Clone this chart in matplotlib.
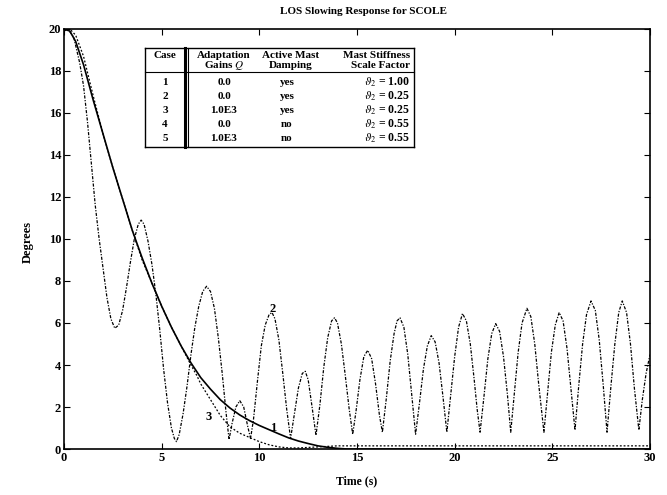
import numpy as np
import matplotlib
matplotlib.use("Agg")
import matplotlib.pyplot as plt
from matplotlib.lines import Line2D

plt.rcParams["font.family"] = ["Liberation Serif", "DejaVu Serif"]
plt.rcParams["mathtext.fontset"] = "stix"

# case 1: solid, smooth decay
t_case1 = [0.0, 0.3, 0.6, 1.0, 1.5, 2.0, 2.5, 3.0, 3.5, 4.0, 4.5, 5.0, 5.5, 6.0, 6.5,
           7.0, 7.5, 8.0, 8.5, 9.0, 9.5, 10.0, 10.5, 11.0, 11.5, 12.0, 12.5, 13.0,
           13.5, 14.0, 14.5, 30.0]
deg_case1 = [20.0, 19.9, 19.4, 18.3, 16.6, 15.0, 13.4, 11.9, 10.4, 9.1, 7.9, 6.8, 5.8,
             4.9, 4.1, 3.4, 2.85, 2.35, 1.95, 1.62, 1.35, 1.12, 0.92, 0.72, 0.53, 0.38,
             0.26, 0.15, 0.08, 0.03, 0.0, 0.0]

# case 2: oscillating mast (no adaptation, soft mast)
case2_points = [
    (0.0, 19.9), (0.2, 20.0), (0.5, 19.6), (0.8, 18.4), (1.0, 17.3), (1.2, 15.6),
    (1.4, 13.6), (1.6, 11.6), (1.8, 10.0), (2.0, 8.6), (2.2, 7.2), (2.4, 6.2),
    (2.6, 5.75), (2.8, 5.9), (3.0, 6.6), (3.2, 7.7), (3.4, 8.9), (3.6, 10.0),
    (3.8, 10.7), (3.95, 10.9), (4.1, 10.7), (4.3, 9.9), (4.5, 8.8), (4.7, 7.4),
    (4.9, 5.7), (5.1, 3.8), (5.3, 2.2), (5.5, 1.0), (5.65, 0.5), (5.76, 0.35),
    (5.9, 0.7), (6.1, 1.7), (6.3, 3.0), (6.5, 4.5), (6.7, 5.8), (6.9, 6.8),
    (7.1, 7.5), (7.3, 7.75), (7.5, 7.5), (7.7, 6.7), (7.9, 5.3), (8.1, 3.6),
    (8.3, 1.7), (8.45, 0.45), (8.6, 1.2), (8.8, 2.0), (9.0, 2.3), (9.2, 2.0),
    (9.4, 1.1), (9.55, 0.5), (9.7, 1.4), (9.9, 3.2), (10.1, 4.9), (10.3, 5.9),
    (10.5, 6.4), (10.65, 6.5), (10.8, 6.2), (11.0, 5.2), (11.2, 3.6), (11.4, 1.9),
    (11.6, 0.5), (11.8, 1.7), (12.0, 2.9), (12.2, 3.6), (12.35, 3.7), (12.5, 3.3),
    (12.7, 2.0), (12.9, 0.65), (13.1, 2.1), (13.3, 3.9), (13.5, 5.3), (13.7, 6.1),
    (13.85, 6.25), (14.0, 6.0), (14.2, 5.0), (14.4, 3.5), (14.6, 1.9), (14.78, 0.7),
    (14.95, 1.8), (15.15, 3.3), (15.35, 4.4), (15.55, 4.7), (15.75, 4.3), (15.95, 3.1),
    (16.15, 1.6), (16.3, 0.8), (16.5, 2.4), (16.7, 4.2), (16.9, 5.5), (17.05, 6.1),
    (17.2, 6.25), (17.4, 5.8), (17.6, 4.5), (17.8, 2.6), (18.0, 0.7), (18.2, 2.2),
    (18.4, 3.8), (18.6, 4.9), (18.8, 5.4), (19.0, 5.1), (19.2, 4.1), (19.4, 2.5),
    (19.6, 0.8), (19.8, 2.6), (20.0, 4.4), (20.2, 5.8), (20.4, 6.45), (20.6, 6.1),
    (20.8, 5.0), (21.0, 3.3), (21.15, 1.9), (21.3, 0.8), (21.5, 2.5), (21.7, 4.3),
    (21.9, 5.5), (22.1, 5.97), (22.3, 5.6), (22.5, 4.4), (22.7, 2.6), (22.87, 0.8),
    (23.05, 2.6), (23.25, 4.6), (23.45, 6.0), (23.7, 6.7), (23.9, 6.3), (24.1, 5.0),
    (24.3, 3.1), (24.57, 0.8), (24.75, 2.6), (24.95, 4.6), (25.15, 5.9), (25.35, 6.5),
    (25.55, 6.1), (25.75, 4.8), (25.95, 2.9), (26.16, 0.9), (26.35, 3.0), (26.55, 5.0),
    (26.75, 6.4), (26.98, 7.05), (27.2, 6.6), (27.4, 5.2), (27.6, 3.1), (27.8, 0.8),
    (28.0, 3.0), (28.2, 5.0), (28.4, 6.5), (28.58, 7.05), (28.8, 6.5), (29.0, 5.0),
    (29.2, 2.9), (29.43, 0.9), (29.6, 2.3), (29.8, 3.6), (30.0, 4.5),
]
t_case2 = [p[0] for p in case2_points]
deg_case2 = [p[1] for p in case2_points]

# case 3: adaptive, follows case 1 then settles faster
t_case3 = [0.0, 0.3, 0.6, 1.0, 1.5, 2.0, 2.5, 3.0, 3.5, 4.0, 4.5, 5.0, 5.5, 6.0, 6.5,
           6.8, 7.0, 7.5, 8.0, 8.5, 9.0, 9.5, 10.0, 10.5, 11.0, 11.5, 12.0, 13.0,
           14.0, 30.0]
deg_case3 = [20.0, 20.0, 19.7, 18.7, 16.8, 15.0, 13.4, 11.9, 10.4, 9.0, 7.9, 6.8, 5.8,
             4.9, 4.0, 3.5, 3.1, 2.35, 1.6, 1.05, 0.75, 0.55, 0.35, 0.2, 0.1, 0.05,
             0.05, 0.1, 0.15, 0.15]

curve_labels = ["1", "2", "3"]
label_t = [10.72, 10.68, 7.39]
label_deg = [0.99, 6.65, 1.54]

table_header1 = ["Case", "Adaptation", "Active Mast", "Mast Stiffness"]
table_header2 = ["", "Gains $Q$", "Damping", "Scale Factor"]
table_case = ["1", "2", "3", "4", "5"]
table_gain = ["0.0", "0.0", "1.0E3", "0.0", "1.0E3"]
table_damping = ["yes", "yes", "yes", "no", "no"]
table_stiffness = ["1.00", "0.25", "0.25", "0.55", "0.55"]

W, H = 667, 495
fig = plt.figure(figsize=(W / 100, H / 100), dpi=100)
ax = fig.add_axes([64 / W, 1 - 449 / H, (650 - 64) / W, (449 - 29) / H])

ax.plot(t_case1, deg_case1, color="black", linewidth=1.2)
ax.plot(t_case2, deg_case2, color="black", linewidth=0.9, linestyle=(0, (2.5, 1.2, 1, 1.2)))
ax.plot(t_case3, deg_case3, color="black", linewidth=0.9, linestyle=(0, (1.5, 1.5)))

for lab, x, y in zip(curve_labels, label_t, label_deg):
    ax.text(x, y, lab, fontsize=9, fontweight="bold", ha="center", va="center")

ax.set_xlim(0, 30)
ax.set_ylim(0, 20)
ax.set_xticks(np.arange(0, 31, 5))
ax.set_yticks(np.arange(0, 21, 2))
ax.tick_params(direction="in", top=True, right=True, length=4, width=0.8,
               labelsize=9, pad=2)
for lab in ax.get_xticklabels() + ax.get_yticklabels():
    lab.set_fontweight("bold")
for sp in ax.spines.values():
    sp.set_linewidth(1.2)

fig.text(364 / W, 1 - 11 / H, "LOS Slowing Response for SCOLE", fontsize=8,
         fontweight="bold", ha="center", va="center")
fig.text(357 / W, 1 - 481 / H, "Time (s)", fontsize=8.5, fontweight="bold",
         ha="center", va="center")
fig.text(28 / W, 1 - 242 / H, "Degrees", fontsize=9, fontweight="bold",
         ha="center", va="center", rotation=90)


# table drawn in pixel positions of the figure
def px(x, y):
    return x / W, 1 - y / H


def hline(y, x0, x1, lw):
    a, b = px(x0, y)
    c, d = px(x1, y)
    fig.add_artist(Line2D([a, c], [b, d], color="black", linewidth=lw))


def vline(x, y0, y1, lw):
    a, b = px(x, y0)
    c, d = px(x, y1)
    fig.add_artist(Line2D([a, c], [b, d], color="black", linewidth=lw))


tl, tr, tt, tb = 145, 414, 48, 147
hline(tt, tl, tr, 1.0)
hline(tb, tl, tr, 1.0)
hline(72, tl, tr, 0.8)
vline(tl, tt, tb, 1.0)
vline(tr, tt, tb, 1.0)
vline(184.5, tt, tb, 2.2)
vline(187.5, tt, tb, 0.8)

fs = 8
col_x = [165, 224, 291, 410]
col_ha = ["center", "center", "center", "right"]
for i in range(4):
    fig.text(*px(col_x[i], 55), table_header1[i], fontsize=fs, fontweight="bold",
             ha=col_ha[i], va="center")
    fig.text(*px(col_x[i], 66), table_header2[i], fontsize=fs, fontweight="bold",
             ha=col_ha[i], va="center")

row_y = [82.5, 96.5, 110.5, 124.5, 138.5]
for i in range(5):
    fig.text(*px(col_x[0], row_y[i]), table_case[i], fontsize=fs, fontweight="bold",
             ha="center", va="center")
    fig.text(*px(col_x[1], row_y[i]), table_gain[i], fontsize=fs, fontweight="bold",
             ha="center", va="center")
    fig.text(*px(col_x[2] - 4, row_y[i]), table_damping[i], fontsize=fs, fontweight="bold",
             ha="center", va="center")
    fig.text(*px(col_x[3], row_y[i]), r"$\vartheta_2$ = " + table_stiffness[i],
             fontsize=fs + 0.5, fontweight="bold", ha="right", va="center")

fig.savefig("out.png", dpi=100)
